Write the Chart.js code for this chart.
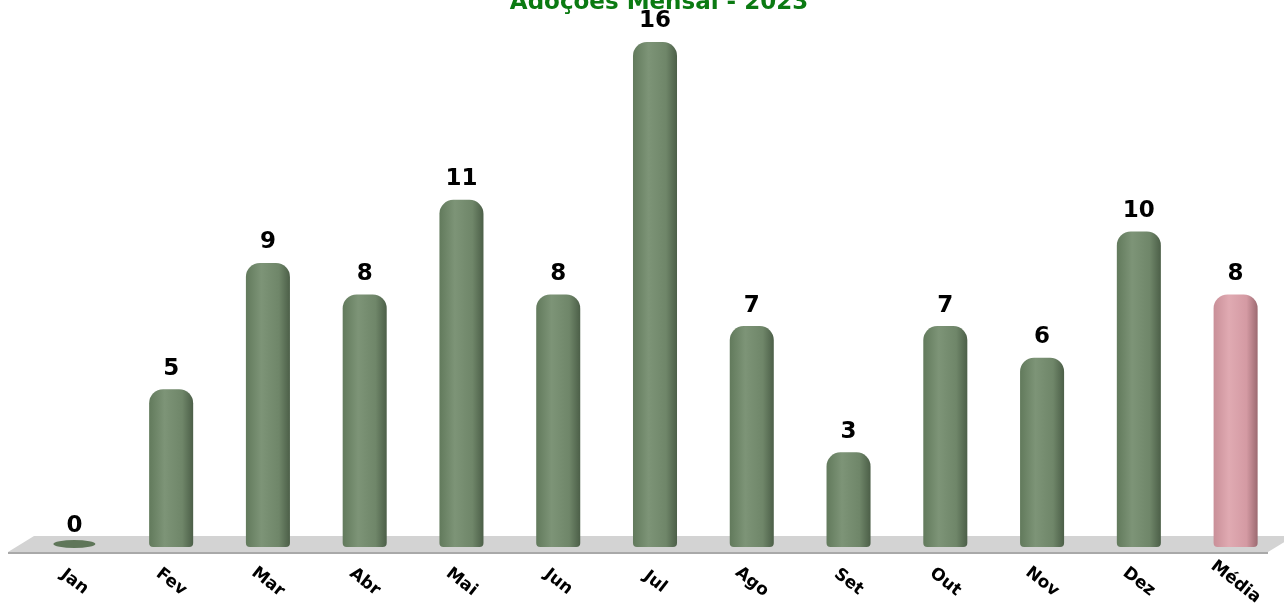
<!DOCTYPE html>
<html>
<head>
<meta charset="utf-8">
<script src="https://cdn.jsdelivr.net/npm/chart.js@4.4.0/dist/chart.umd.min.js"></script>
<style>
  html, body { margin: 0; padding: 0; background: #fff; }
  #wrap { width: 1284px; height: 616px; }
</style>
</head>
<body>
<div id="wrap"><canvas id="adocoesChart"></canvas></div>
<script>
const chartTitle = 'Adoções Mensal - 2023';
const months = ['Jan', 'Fev', 'Mar', 'Abr', 'Mai', 'Jun', 'Jul', 'Ago', 'Set', 'Out', 'Nov', 'Dez', 'Média'];
const adocoes = [0, 5, 9, 8, 11, 8, 16, 7, 3, 7, 6, 10, 8];

const FONT = "'DejaVu Sans', sans-serif";

// cylinder-ish horizontal gradient for each bar
function barGradient(ctx) {
  const chart = ctx.chart;
  const xs = chart.scales.x;
  const isAvg = ctx.dataIndex === months.length - 1;
  if (!xs || !chart.chartArea) return isAvg ? '#d7a0a8' : '#74896e';
  const cx = xs.getPixelForValue(ctx.dataIndex);
  const w = 22;
  const g = chart.ctx.createLinearGradient(cx - w, 0, cx + w, 0);
  if (isAvg) {
    g.addColorStop(0, '#c98f98');
    g.addColorStop(0.35, '#e0aab2');
    g.addColorStop(0.75, '#d49aa3');
    g.addColorStop(1, '#9c6a71');
  } else {
    g.addColorStop(0, '#627a5c');
    g.addColorStop(0.35, '#7d9477');
    g.addColorStop(0.75, '#6f8669');
    g.addColorStop(1, '#4c5f48');
  }
  return g;
}

const decorPlugin = {
  id: 'decor',
  beforeDatasetsDraw(chart) {
    const c = chart.ctx;
    const a = chart.chartArea;
    const base = a.bottom;
    // floor platform
    c.save();
    c.fillStyle = '#d3d3d3';
    c.beginPath();
    c.moveTo(a.left + 8, base - 11);
    c.lineTo(chart.width + 10, base - 11);
    c.lineTo(chart.width - 16, base + 5);
    c.lineTo(a.left - 18, base + 5);
    c.closePath();
    c.fill();
    c.strokeStyle = '#a9a9a9';
    c.lineWidth = 2;
    c.beginPath();
    c.moveTo(a.left - 18, base + 6);
    c.lineTo(chart.width - 16, base + 6);
    c.stroke();
    // zero-value bars appear as a flat disc on the floor
    const meta = chart.getDatasetMeta(0);
    meta.data.forEach((bar, i) => {
      if (adocoes[i] === 0) {
        c.fillStyle = '#5f7659';
        c.beginPath();
        c.ellipse(bar.x, base - 3, 21, 4, 0, 0, Math.PI * 2);
        c.fill();
      }
    });
    c.restore();
  },
  afterDatasetsDraw(chart) {
    const c = chart.ctx;
    const a = chart.chartArea;
    const meta = chart.getDatasetMeta(0);
    c.save();
    // value labels
    c.fillStyle = '#000';
    c.font = "bold 23px " + FONT;
    c.textAlign = 'center';
    c.textBaseline = 'bottom';
    meta.data.forEach((bar, i) => {
      c.fillText(String(adocoes[i]), bar.x, bar.y - 9);
    });
    // rotated month labels
    c.font = "bold 17px " + FONT;
    c.textAlign = 'center';
    c.textBaseline = 'middle';
    meta.data.forEach((bar, i) => {
      c.save();
      c.translate(bar.x, a.bottom + 35);
      c.rotate(38 * Math.PI / 180);
      c.fillText(months[i], 0, 0);
      c.restore();
    });
    // title (partly above the canvas, as in the original)
    c.fillStyle = '#0b7a12';
    c.font = "bold 23px " + FONT;
    c.textAlign = 'center';
    c.textBaseline = 'alphabetic';
    c.fillText(chartTitle, 659, 9);
    c.restore();
  }
};

new Chart(document.getElementById('adocoesChart'), {
  type: 'bar',
  data: {
    labels: months,
    datasets: [{
      data: adocoes,
      backgroundColor: barGradient,
      borderWidth: 0,
      borderRadius: { topLeft: 14, topRight: 14, bottomLeft: 4, bottomRight: 4 },
      borderSkipped: false,
      categoryPercentage: 1,
      barPercentage: 0.455
    }]
  },
  plugins: [decorPlugin],
  options: {
    responsive: true,
    maintainAspectRatio: false,
    animation: false,
    layout: { padding: { top: 42, bottom: 69, left: 26, right: 0 } },
    plugins: {
      legend: { display: false },
      tooltip: { enabled: false },
      title: { display: false }
    },
    scales: {
      x: { display: false },
      y: { display: false, min: 0, max: 16 }
    }
  }
});
</script>
</body>
</html>
